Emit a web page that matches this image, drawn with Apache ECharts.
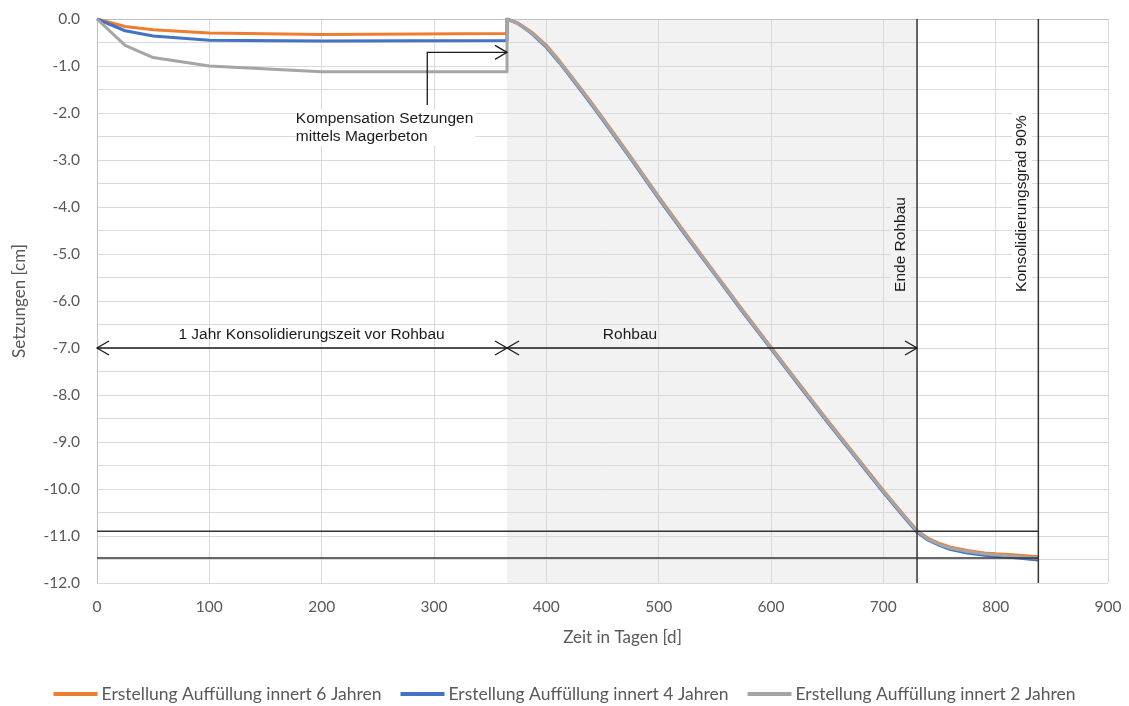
<!DOCTYPE html>
<html>
<head>
<meta charset="utf-8">
<script src="https://cdn.jsdelivr.net/npm/echarts@6/dist/echarts.min.js"></script>
<style>
  html, body { margin: 0; padding: 0; background: #ffffff; }
  #chart { width: 1129px; height: 706px; }
</style>
</head>
<body>
<div id="chart"></div>
<script>
// Days of the fill phase (first year) and of the building phase
const fillDays  = [0, 25, 50, 100, 200, 365];
const buildDays = [365, 375, 387, 400, 412, 425, 437, 450, 475, 500, 525, 550, 575, 600,
                   625, 650, 675, 700, 715, 730, 740, 750, 760, 775, 790, 800, 815, 838];

// Settlements [cm], fill built within 6 years
const fill6  = [0, -0.16, -0.23, -0.30, -0.33, -0.31];
const build6 = [0, -0.09, -0.28, -0.56, -0.90, -1.30, -1.68, -2.10, -2.93, -3.78, -4.60, -5.40, -6.20, -6.98,
                -7.76, -8.53, -9.28, -10.03, -10.46, -10.88, -11.05, -11.16, -11.24, -11.31, -11.36, -11.38, -11.40, -11.44];

// Settlements [cm], fill built within 4 years
const fill4  = [0, -0.25, -0.36, -0.45, -0.47, -0.46];
const build4 = [0, -0.10, -0.31, -0.60, -0.94, -1.34, -1.72, -2.14, -2.97, -3.82, -4.64, -5.44, -6.24, -7.02,
                -7.80, -8.57, -9.32, -10.07, -10.50, -10.92, -11.09, -11.20, -11.29, -11.36, -11.41, -11.43, -11.46, -11.51];

// Settlements [cm], fill built within 2 years
const fill2  = [0, -0.56, -0.82, -1.00, -1.12, -1.12];
const build2 = [0, -0.10, -0.30, -0.58, -0.92, -1.32, -1.70, -2.12, -2.95, -3.80, -4.62, -5.42, -6.22, -7.00,
                -7.78, -8.55, -9.30, -10.05, -10.48, -10.90, -11.07, -11.18, -11.26, -11.33, -11.38, -11.40, -11.43, -11.47];

const seriesNames = [
  'Erstellung Auffüllung innert 6 Jahren',
  'Erstellung Auffüllung innert 4 Jahren',
  'Erstellung Auffüllung innert 2 Jahren'
];

// Phases and reference levels
const startRohbau = 365;
const endRohbau = 730;
const consolidation90 = 838;
const referenceLevels = [-10.9, -11.47];
const phaseArrowLevel = -7.0;
const phaseLabelLevel = -6.72;
const verticalLabelLevel = -5.87;
const compensationArrow = [[294, -1.83], [294, -0.71], [365, -0.71]];
const compensationLabelAnchor = [177, -1.93];

function pairs(xs, ys) { return xs.map((x, i) => [x, ys[i]]); }

const curves = [
  { name: seriesNames[0], color: '#ED7D31', data: pairs(fillDays, fill6).concat(pairs(buildDays, build6)) },
  { name: seriesNames[1], color: '#4472C4', data: pairs(fillDays, fill4).concat(pairs(buildDays, build4)) },
  { name: seriesNames[2], color: '#A5A5A5', data: pairs(fillDays, fill2).concat(pairs(buildDays, build2)) }
];

const annoFont = 'Liberation Sans, Arial, sans-serif';
const ink = '#1a1a1a';

function chevron(tip, dir) {
  return {
    type: 'polyline',
    shape: { points: [[tip[0] - dir * 12, tip[1] - 7], tip, [tip[0] - dir * 12, tip[1] + 7]] },
    style: { stroke: ink, lineWidth: 1.3, fill: null }
  };
}

function seg(a, b, w, color) {
  return {
    type: 'line',
    shape: { x1: a[0], y1: a[1], x2: b[0], y2: b[1] },
    style: { stroke: color || ink, lineWidth: w || 1.3 }
  };
}

function renderShade(params, api) {
  const a = api.coord([startRohbau, 0]);
  const b = api.coord([endRohbau, -12]);
  return {
    type: 'rect',
    shape: { x: a[0], y: a[1], width: b[0] - a[0], height: b[1] - a[1] },
    style: { fill: '#f2f2f2' }
  };
}

function renderAnnotations(params, api) {
  const c = api.coord;
  const children = [];

  // horizontal reference levels up to the 90 % consolidation line
  referenceLevels.forEach(v => {
    children.push(seg(c([0, v]), c([consolidation90, v]), 1.5, '#333333'));
  });
  // vertical markers
  [endRohbau, consolidation90].forEach(d => {
    children.push(seg(c([d, 0]), c([d, -12]), 1.5, '#333333'));
  });

  // phase double arrows
  [[0, startRohbau], [startRohbau, endRohbau]].forEach(([d0, d1]) => {
    const p0 = c([d0, phaseArrowLevel]);
    const p1 = c([d1, phaseArrowLevel]);
    children.push(seg(p0, p1));
    children.push(chevron(p0, -1));
    children.push(chevron(p1, 1));
  });

  // phase labels
  const l1 = c([191, phaseLabelLevel]);
  children.push({ type: 'text', x: l1[0], y: l1[1],
    style: { text: '1 Jahr Konsolidierungszeit vor Rohbau', font: '15.5px ' + annoFont, fill: ink, align: 'center', verticalAlign: 'middle' } });
  const l2 = c([474.5, phaseLabelLevel]);
  children.push({ type: 'text', x: l2[0], y: l2[1],
    style: { text: 'Rohbau', font: '15.5px ' + annoFont, fill: ink, align: 'center', verticalAlign: 'middle' } });

  // compensation elbow arrow
  const cp = compensationArrow.map(p => c(p));
  children.push({ type: 'polyline', shape: { points: cp }, style: { stroke: ink, lineWidth: 1.3, fill: null } });
  children.push(chevron(cp[cp.length - 1], 1));
  const ca = c(compensationLabelAnchor);
  children.push({ type: 'text', x: ca[0], y: ca[1],
    style: { text: 'Kompensation Setzungen\nmittels Magerbeton', font: '15.5px ' + annoFont, lineHeight: 18,
             fill: ink, align: 'left', verticalAlign: 'top', backgroundColor: '#ffffff', padding: [0, 2, 0, 0] } });

  // rotated marker labels
  const e = c([endRohbau, verticalLabelLevel]);
  children.push({ type: 'text', x: e[0] - 16, y: e[1], rotation: Math.PI / 2,
    style: { text: 'Ende Rohbau', font: '15.5px ' + annoFont, fill: ink, align: 'left', verticalAlign: 'middle',
             backgroundColor: '#f2f2f2', padding: [2, 3, 2, 3] } });
  const k = c([consolidation90, verticalLabelLevel]);
  children.push({ type: 'text', x: k[0] - 16.5, y: k[1], rotation: Math.PI / 2,
    style: { text: 'Konsolidierungsgrad 90%', font: '15.5px ' + annoFont, fill: ink, align: 'left', verticalAlign: 'middle',
             backgroundColor: '#ffffff', padding: [2, 3, 2, 3] } });

  return { type: 'group', children: children };
}

const chart = echarts.init(document.getElementById('chart'), null, { renderer: 'canvas' });

const labelFont = 'Lato, Carlito, Calibri, sans-serif';

chart.setOption({
  animation: false,
  backgroundColor: '#ffffff',
  textStyle: { fontFamily: labelFont },
  grid: { left: 97, right: 21, top: 19, bottom: 123, containLabel: false },
  legend: {
    data: seriesNames,
    top: 680,
    left: 'center',
    icon: 'rect',
    itemWidth: 44,
    itemHeight: 4,
    itemGap: 19,
    textStyle: { fontSize: 17.5, color: '#595959', fontFamily: labelFont, padding: [0, 0, 0, -1] }
  },
  xAxis: {
    type: 'value',
    min: 0, max: 900, interval: 100,
    name: 'Zeit in Tagen [d]',
    nameLocation: 'middle',
    nameGap: 46,
    nameTextStyle: { fontSize: 17, color: '#595959', fontFamily: labelFont, padding: [0, 0, 0, 40] },
    axisLine: { lineStyle: { color: '#bfbfbf', width: 1 } },
    axisTick: { show: false },
    axisLabel: { fontSize: 15.5, color: '#595959', margin: 16 },
    splitLine: { show: true, lineStyle: { color: '#d9d9d9', width: 1 } }
  },
  yAxis: {
    type: 'value',
    min: -12, max: 0, interval: 0.5,
    name: 'Setzungen [cm]',
    nameLocation: 'middle',
    nameGap: 69,
    nameTextStyle: { fontSize: 17, color: '#595959', fontFamily: labelFont },
    axisLine: { show: true, lineStyle: { color: '#bfbfbf', width: 1 } },
    axisTick: { show: false },
    axisLabel: {
      fontSize: 15.5, color: '#595959', margin: 17,
      formatter: v => (Math.abs(v - Math.round(v)) < 1e-9 ? (Math.round(v) === 0 ? '0.0' : v.toFixed(1)) : '')
    },
    splitLine: { show: true, lineStyle: { color: '#d9d9d9', width: 1 } }
  },
  series: [
    {
      type: 'custom', name: 'shade', z: -1, silent: true,
      renderItem: renderShade, data: [[startRohbau, 0]], clip: false
    }
  ].concat(curves.map(s => ({
    type: 'line',
    name: s.name,
    data: s.data,
    showSymbol: false,
    symbol: 'none',
    color: s.color,
    lineStyle: { color: s.color, width: 3, join: 'round' },
    z: 3
  }))).concat([
    {
      type: 'custom', name: 'annotations', z: 4, silent: true,
      renderItem: renderAnnotations, data: [[0, 0]], clip: false
    }
  ])
});
</script>
</body>
</html>
